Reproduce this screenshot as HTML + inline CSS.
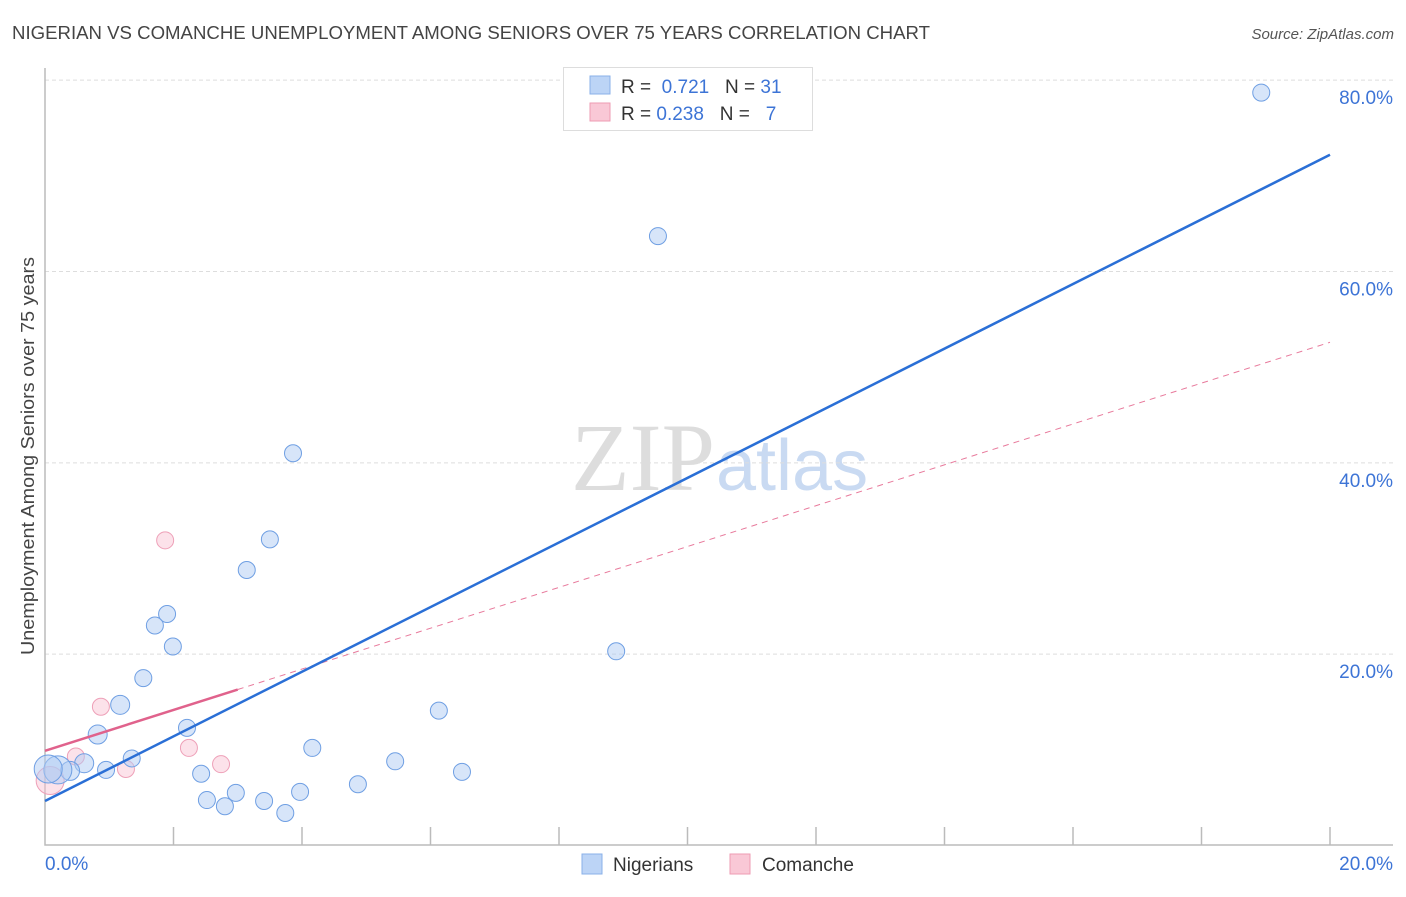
<!DOCTYPE html>
<html><head><meta charset="utf-8"><style>
body{margin:0;background:#fff;font-family:"Liberation Sans",sans-serif;}
</style></head><body>
<svg width="1406" height="892" xmlns="http://www.w3.org/2000/svg">
<text x="12" y="39" font-size="18" fill="#444" textLength="918" lengthAdjust="spacingAndGlyphs">NIGERIAN VS COMANCHE UNEMPLOYMENT AMONG SENIORS OVER 75 YEARS CORRELATION CHART</text>
<text x="1394" y="39" font-size="15" fill="#555" font-style="italic" text-anchor="end">Source: ZipAtlas.com</text>
<text x="715" y="490" font-size="96" fill="#ddd" font-family="Liberation Serif,serif" text-anchor="end">ZIP</text>
<text x="716" y="490" font-size="72" fill="#c9daf2">atlas</text>
<g id="grid"></g>
<g id="axes"></g>
<g id="marks"></g>
<text transform="translate(34,456) rotate(-90)" font-size="18" fill="#444" text-anchor="middle" textLength="398" lengthAdjust="spacingAndGlyphs">Unemployment Among Seniors over 75 years</text>
<text x="45" y="870" font-size="19" fill="#3d74d6">0.0%</text>
<text x="1393" y="870" font-size="19" fill="#3d74d6" text-anchor="end">20.0%</text>
<g>
<rect x="563.5" y="67.5" width="249" height="63" fill="#fff" stroke="#ddd"/>
<rect x="590" y="76" width="20" height="18" fill="#bcd4f6" stroke="#8ab0e8"/>
<rect x="590" y="103" width="20" height="18" fill="#f9c8d6" stroke="#ee9bb3"/>
<text x="621" y="93" font-size="19" fill="#333">R = <tspan fill="#3d74d6">&#160;0.721</tspan>&#160;&#160;&#160;N = <tspan fill="#3d74d6">31</tspan></text>
<text x="621" y="120" font-size="19" fill="#333">R = <tspan fill="#3d74d6">0.238</tspan>&#160;&#160;&#160;N = <tspan fill="#3d74d6">&#160;&#160;7</tspan></text>
</g>
<g>
<rect x="582" y="854" width="20" height="20" fill="#bcd4f6" stroke="#8ab0e8"/>
<text x="613" y="871" font-size="19" fill="#333">Nigerians</text>
<rect x="730" y="854" width="20" height="20" fill="#f9c8d6" stroke="#ee9bb3"/>
<text x="762" y="871" font-size="19" fill="#333">Comanche</text>
</g>
</svg>
<script>
const yTicks=[20,40,60,80];
const nigX=[18.93,9.54,3.86,3.50,3.14,1.90,1.71,1.99,1.53,1.17,0.82,2.21,1.35,0.61,0.95,0.39,0.20,2.43,2.52,2.80,2.97,3.41,3.74,3.97,4.16,4.87,5.45,6.13,6.49,8.89,0.05];
const nigY=[78.7,63.7,41.0,32.0,28.8,24.2,23.0,20.8,17.5,14.7,11.6,12.3,9.1,8.6,7.9,7.8,7.9,7.5,4.75,4.1,5.5,4.65,3.4,5.6,10.2,6.4,8.8,14.1,7.7,20.3,8.0];
const nigR=[8.5,8.5,8.5,8.5,8.5,8.5,8.5,8.5,8.5,9.5,9.5,8.5,8.5,9.5,8.5,9.5,14,8.5,8.5,8.5,8.5,8.5,8.5,8.5,8.5,8.5,8.5,8.5,8.5,8.5,14];
const comX=[1.87,0.87,0.48,2.24,1.26,2.74,0.08];
const comY=[31.9,14.5,9.3,10.2,8.0,8.5,6.8];
const comR=[8.5,8.5,8.5,8.5,8.5,8.5,14];
const nigLine=[4.65,72.2];
const comLine=[9.9,52.6];
const comSolidEnd=3.0;
const X=v=>45+v*64.25, Y=v=>845.5-v*9.567;
const NS='http://www.w3.org/2000/svg';
function mk(t,a,p){const e=document.createElementNS(NS,t);for(const k in a)e.setAttribute(k,a[k]);document.getElementById(p).appendChild(e);return e;}
yTicks.forEach(t=>{
 const g=mk('line',{x1:45,x2:1393,y1:Y(t),y2:Y(t),stroke:'#ddd','stroke-dasharray':'4,3'},'grid');
 
 
 const l=mk('text',{x:1393,y:Y(t)+24,'font-size':19,fill:'#3d74d6','text-anchor':'end'},'grid');
 l.textContent=t.toFixed(1)+'%';
 
 
});
const ax=mk('path',{d:'M45,68V845H1393',fill:'none',stroke:'#bbb','stroke-width':1.5},'axes');


for(let i=1;i<=10;i++){const t=mk('line',{x1:X(i*2),x2:X(i*2),y1:827,y2:845,stroke:'#bbb','stroke-width':1.5},'axes');
 
 }
comX.forEach((x,i)=>{const c=mk('circle',{cx:X(x),cy:Y(comY[i]),r:comR[i],fill:'rgba(249,190,208,0.45)',stroke:'#eea0b8','stroke-width':1},'marks');
 
 });
nigX.forEach((x,i)=>{const c=mk('circle',{cx:X(x),cy:Y(nigY[i]),r:nigR[i],fill:'rgba(176,204,244,0.5)',stroke:'#6f9fe3','stroke-width':1},'marks');
 
 });
const cs=(comLine[1]-comLine[0])/20;
const cd=mk('line',{x1:X(comSolidEnd),y1:Y(comLine[0]+cs*comSolidEnd),x2:X(20),y2:Y(comLine[1]),stroke:'#e87a9c','stroke-width':1,'stroke-dasharray':'6,5'},'marks');


const cl=mk('line',{x1:X(0),y1:Y(comLine[0]),x2:X(comSolidEnd),y2:Y(comLine[0]+cs*comSolidEnd),stroke:'#e0628c','stroke-width':2.5},'marks');


const nl=mk('line',{x1:X(0),y1:Y(nigLine[0]),x2:X(20),y2:Y(nigLine[1]),stroke:'#2a6fd6','stroke-width':2.5},'marks');


</script>
</body></html>
